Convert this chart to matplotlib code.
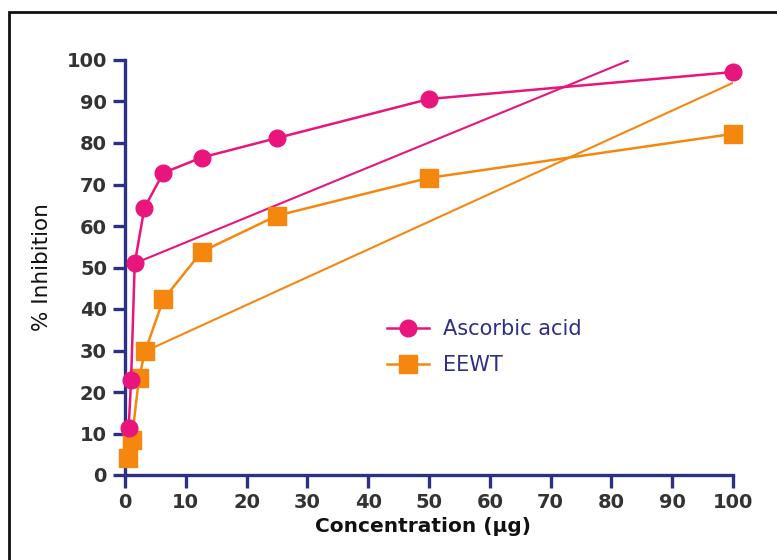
import matplotlib
matplotlib.use('Agg')
import matplotlib.pyplot as plt
from matplotlib.patches import Rectangle

# data
conc_aa = [0.6, 1.0, 1.6, 3.2, 6.3, 12.6, 25, 50, 100]
inhib_aa = [11.3, 22.8, 51.0, 64.4, 72.8, 76.5, 81.2, 90.6, 97.1]

conc_ee = [0.5, 1.1, 2.3, 3.3, 6.3, 12.6, 25, 50, 100]
inhib_ee = [4.1, 8.4, 23.3, 29.8, 42.3, 53.8, 62.5, 71.6, 82.2]

# straight trend lines
trend_aa_x = [1.6, 82.7]
trend_aa_y = [51.0, 99.8]
trend_ee_x = [3.3, 100]
trend_ee_y = [29.8, 94.5]

x_ticks = list(range(0, 101, 10))
y_ticks = list(range(0, 101, 10))

pink = '#e8157d'
orange = '#f5870f'
navy = '#2e3085'
tick_grey = '#333333'

plt.rcParams['font.family'] = ['DejaVu Sans']

fig = plt.figure(figsize=(7.77, 5.6), dpi=100, facecolor='white')
ax = fig.add_axes([125/777, 85/560, 608/777, 415/560])

ax.plot(trend_aa_x, trend_aa_y, color=pink, linewidth=1.5, zorder=2)
ax.plot(trend_ee_x, trend_ee_y, color=orange, linewidth=1.5, zorder=2)

ax.plot(conc_ee, inhib_ee, color=orange, linewidth=1.8, marker='s', markersize=13,
        label='EEWT', clip_on=False, zorder=3)
ax.plot(conc_aa, inhib_aa, color=pink, linewidth=1.8, marker='o', markersize=12,
        label='Ascorbic acid', clip_on=False, zorder=4)

ax.set_xlim(0, 100)
ax.set_ylim(0, 100)
ax.set_xticks(x_ticks)
ax.set_yticks(y_ticks)

for side in ['top', 'right']:
    ax.spines[side].set_visible(False)
for side in ['left', 'bottom']:
    ax.spines[side].set_color(navy)
    ax.spines[side].set_linewidth(2.4)
    ax.spines[side].set_zorder(1)

ax.tick_params(axis='both', colors=navy, width=2.4, length=9, direction='out',
               labelcolor=tick_grey, labelsize=14, pad=4)
for lbl in ax.get_xticklabels() + ax.get_yticklabels():
    lbl.set_fontweight('bold')

ax.set_xlabel('Concentration (\u00b5g)', fontsize=14.5, fontweight='bold', color='#111111')
ax.xaxis.set_label_coords(0.49, -0.1)
ax.set_ylabel('% Inhibition', fontsize=15.5, color='#111111')
ax.yaxis.set_label_coords(-0.12, 0.5)

handles, labels = ax.get_legend_handles_labels()
leg = ax.legend(handles[::-1], labels[::-1], loc='upper left', bbox_to_anchor=(0.4, 0.42),
                frameon=False, fontsize=15, handlelength=2.0, labelspacing=0.75, handletextpad=0.7)
for t in leg.get_texts():
    t.set_color(navy)

fig.patches.append(Rectangle((9/777, -0.1), 1.2, (560-12)/560 + 0.1, transform=fig.transFigure,
                             fill=False, edgecolor='#111111', linewidth=2))

fig.savefig('out.png', dpi=100, facecolor='white')
